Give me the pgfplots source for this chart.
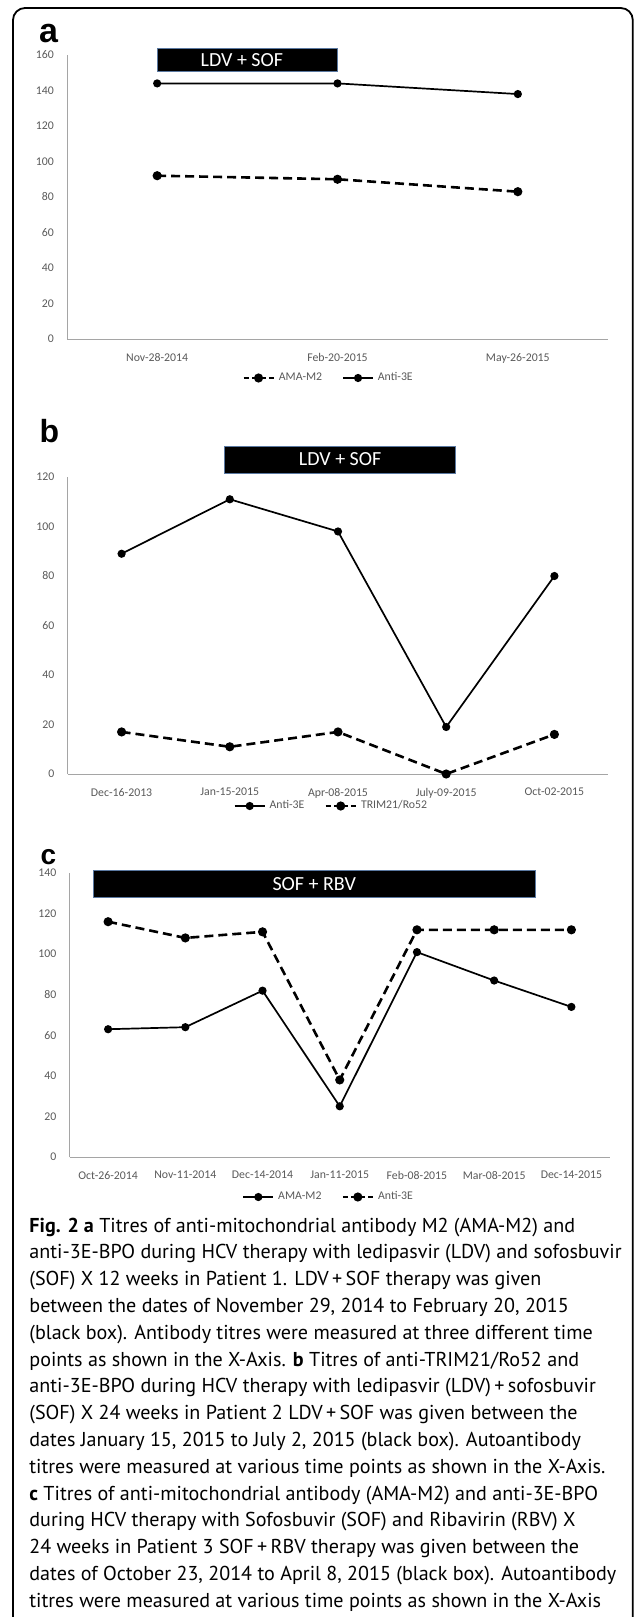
\documentclass[border=0pt]{standalone}
\usepackage{fontspec}
\setmainfont{PT Sans}
\newfontfamily\calibri{Carlito}
\newfontfamily\arialb{Liberation Sans}
\usepackage{pgfplots}
\pgfplotsset{compat=1.18}
\definecolor{tickgray}{RGB}{89,89,89}
\definecolor{axgray}{RGB}{165,165,165}
\definecolor{boxedge}{RGB}{90,120,160}
\newcommand\tickfont{\calibri\fontsize{5.9}{7}\selectfont}
\newcommand\boxfont{\calibri\fontsize{10}{12}\selectfont}
\newcommand\capfont{\fontsize{10.05}{13.4}\selectfont}
\newcommand\capline[2]{\node[anchor=base west, inner sep=0pt, font=\capfont] at (14.5pt,-#1pt) {#2};}
\pgfplotsset{
  excel/.style={
    scale only axis,
    enlargelimits=false,
    axis x line=bottom, axis y line=left,
    axis line style={axgray, line width=0.5pt, -},
    major tick length=0pt,
    tick label style={font=\tickfont, text=tickgray},
    yticklabel style={xshift=-3pt},
    xticklabel style={yshift=-3.5pt},
    /pgf/number format/assume math mode=true,
    clip=false,
    ymin=0,
    legend style={draw=none, fill=none, font=\tickfont, text=tickgray,
      /tikz/every even column/.append style={column sep=8pt}},
    legend columns=2,
    legend image code/.code={\draw[mark repeat=2,mark phase=2,##1] plot coordinates {(0pt,0pt) (7.5pt,0pt) (15pt,0pt)};},
  },
  solidline/.style={black, line width=0.85pt, mark=*, mark size=1.6pt, mark options={solid}},
  dashline/.style={black, line width=1.3pt, dash pattern=on 4.5pt off 2.5pt, mark=*, mark size=1.6pt, mark options={solid},
    legend image post style={dash pattern=on 2.6pt off 1.6pt}},
}
\begin{document}
\begin{tikzpicture}
\path[use as bounding box] (0,0) rectangle (317pt,-808.5pt);
\draw[line width=0.9pt, rounded corners=6pt] (6.5pt,-812pt) -- (6.5pt,-4pt) -- (316.4pt,-4pt) -- (316.4pt,-812pt);

% Panel a
\node[font=\arialb\bfseries\fontsize{17}{19}\selectfont] at (24.25pt,-17pt) {a};
\begin{axis}[excel, at={(33.5pt,-169.5pt)}, anchor=south west,
  width=270.5pt, height=142pt,
  xmin=-0.5, xmax=2.5, ymax=160,
  xtick={0,1,2}, xticklabels={Nov-28-2014,Feb-20-2015,May-26-2015},
  ytick={0,20,...,160},
  legend style={at={(0.5,0)}, anchor=center, xshift=-4pt, yshift=-19.5pt}]
\draw[fill=black, draw=boxedge, line width=0.5pt] (axis cs:0,163.4) rectangle (axis cs:1,150.6);
\node[text=white, font=\boxfont] at (axis cs:0.47,157.2) {LDV + SOF};
\addplot[dashline] coordinates {(0,92) (1,90) (2,83)};
\addlegendentry{AMA-M2}
\addplot[solidline] coordinates {(0,144) (1,144) (2,138)};
\addlegendentry{Anti-3E}
\end{axis}

% Panel b
\node[font=\arialb\bfseries\fontsize{16}{18}\selectfont] at (24.75pt,-215.5pt) {b};
\begin{axis}[excel, at={(33.75pt,-387pt)}, anchor=south west,
  width=270.5pt, height=148.5pt,
  xmin=-0.5, xmax=4.5, ymax=120,
  xtick={0,1,2,3,4}, xticklabels={Dec-16-2013,Jan-15-2015,Apr-08-2015,July-09-2015,Oct-02-2015},
  ytick={0,20,...,120},
  legend style={at={(0.5,0)}, anchor=center, xshift=-2.75pt, yshift=-16pt}]
\draw[fill=black, draw=boxedge, line width=0.5pt] (axis cs:0.95,132.5) rectangle (axis cs:3.09,121.6);
\node[text=white, font=\boxfont] at (axis cs:2.02,127.1) {LDV + SOF};
\addplot[solidline] coordinates {(0,89) (1,111) (2,98) (3,19) (4,80)};
\addlegendentry{Anti-3E}
\addplot[dashline] coordinates {(0,17) (1,11) (2,17) (3,0) (4,16)};
\addlegendentry{TRIM21/Ro52}
\end{axis}

% Panel c
\node[font=\arialb\bfseries\fontsize{14}{16}\selectfont] at (24.25pt,-428.5pt) {c};
\begin{axis}[excel, at={(34.75pt,-578.5pt)}, anchor=south west,
  width=270.25pt, height=142pt,
  xmin=-0.5, xmax=6.5, ymax=140,
  xtick={0,1,2,3,4,5,6}, xticklabels={Oct-26-2014,Nov-11-2014,Dec-14-2014,Jan-11-2015,Feb-08-2015,Mar-08-2015,Dec-14-2015},
  ytick={0,20,...,140},
  legend style={at={(0.5,0)}, anchor=center, xshift=-5pt, yshift=-20pt}]
\draw[fill=black, draw=boxedge, line width=0.5pt] (axis cs:-0.19,141) rectangle (axis cs:5.53,128.1);
\node[text=white, font=\boxfont] at (axis cs:2.67,134.5) {SOF + RBV};
\addplot[solidline] coordinates {(0,63) (1,64) (2,82) (3,25) (4,101) (5,87) (6,74)};
\addlegendentry{AMA-M2}
\addplot[dashline] coordinates {(0,116) (1,108) (2,111) (3,38) (4,112) (5,112) (6,112)};
\addlegendentry{Anti-3E}
\end{axis}

% Caption
\capline{616}{\textbf{Fig. 2 a} Titres of anti-mitochondrial antibody M2 (AMA-M2) and}
\capline{629.4}{anti-3E-BPO during HCV therapy with ledipasvir (LDV) and sofosbuvir}
\capline{642.8}{(SOF) X 12 weeks in Patient 1. LDV\,+\,SOF therapy was given}
\capline{656.2}{between the dates of November 29, 2014 to February 20, 2015}
\capline{669.6}{(black box). Antibody titres were measured at three different time}
\capline{683}{points as shown in the X-Axis. \textbf{b} Titres of anti-TRIM21/Ro52 and}
\capline{696.4}{anti-3E-BPO during HCV therapy with ledipasvir (LDV)\,+\,sofosbuvir}
\capline{709.8}{(SOF) X 24 weeks in Patient 2 LDV\,+\,SOF was given between the}
\capline{723.2}{dates January 15, 2015 to July 2, 2015 (black box). Autoantibody}
\capline{736.6}{titres were measured at various time points as shown in the X-Axis.}
\capline{750}{\textbf{c} Titres of anti-mitochondrial antibody (AMA-M2) and anti-3E-BPO}
\capline{763.4}{during HCV therapy with Sofosbuvir (SOF) and Ribavirin (RBV) X}
\capline{776.8}{24 weeks in Patient 3 SOF\,+\,RBV therapy was given between the}
\capline{790.2}{dates of October 23, 2014 to April 8, 2015 (black box). Autoantibody}
\capline{803.6}{titres were measured at various time points as shown in the X-Axis}
\end{tikzpicture}
\end{document}
